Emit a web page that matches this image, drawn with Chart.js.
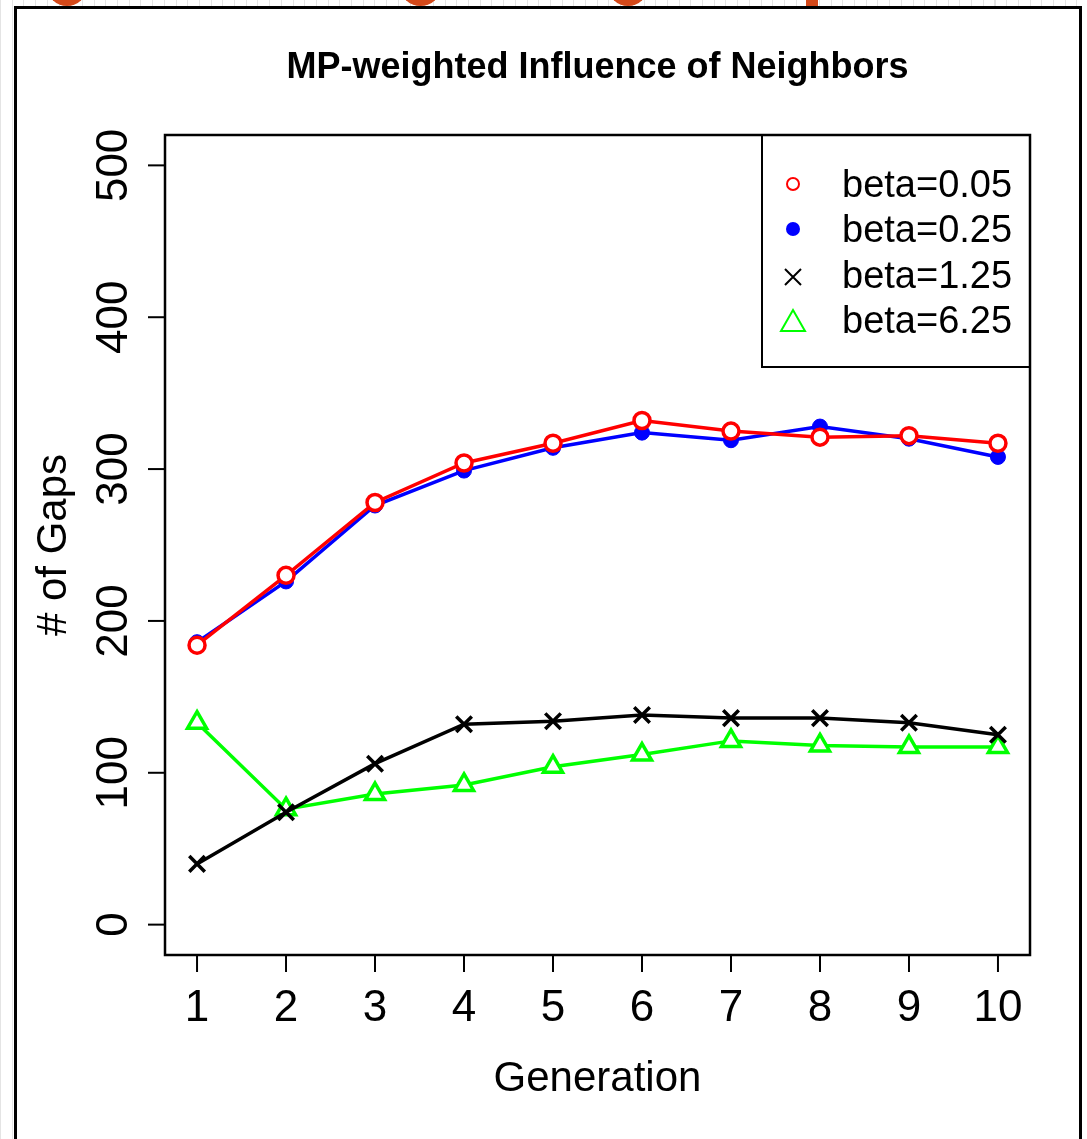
<!DOCTYPE html>
<html>
<head>
<meta charset="utf-8">
<script src="https://cdn.jsdelivr.net/npm/chart.js@4.4.1/dist/chart.umd.min.js"></script>
<style>
  html, body { margin: 0; padding: 0; }
  body {
    width: 1087px; height: 1139px; overflow: hidden; position: relative;
    background: #fff repeating-linear-gradient(90deg, #e4e4e4 0 1px, transparent 1px 11.7px);
  }
  .frame {
    position: absolute; left: 14px; top: 6px; width: 1068px; height: 1200px;
    border: 3px solid #000; background: #fff; box-sizing: border-box;
  }
  .blob { position: absolute; background: #d4491a; }
  #chart { position: absolute; left: 0; top: 0; }
</style>
</head>
<body>
<div class="blob" style="left:47px;top:-34px;width:40px;height:40px;border-radius:50%"></div>
<div class="blob" style="left:400px;top:-34px;width:41px;height:40px;border-radius:50%"></div>
<div class="blob" style="left:608px;top:-34px;width:40px;height:40px;border-radius:50%"></div>
<div class="blob" style="left:806px;top:0;width:12px;height:6px"></div>
<div class="frame"></div>
<canvas id="chart" width="1087" height="1139"></canvas>
<script>
const generations = [1, 2, 3, 4, 5, 6, 7, 8, 9, 10];
const beta005 = [184, 230, 278, 304, 317, 332, 325, 321, 322, 317];
const beta025 = [186, 226, 276, 299, 314, 324, 319, 328, 320, 308];
const beta125 = [40, 74, 106, 132, 134, 138, 136, 136, 133, 125];
const beta625 = [133, 76, 86, 92, 104, 112, 121, 118, 117, 117];
const yTicks = [0, 100, 200, 300, 400, 500];
const seriesNames = ['beta=0.05', 'beta=0.25', 'beta=1.25', 'beta=6.25'];

const FONT = '"Liberation Sans", Arial, Helvetica, sans-serif';

function pts(values) {
    return generations.map((g, i) => ({ x: g, y: values[i] }));
}

// R-style box, ticks, labels, title and legend
const rStyle = {
    id: 'rStyle',
    afterDraw(chart) {
        const ctx = chart.ctx;
        const a = chart.chartArea;
        const xs = chart.scales.x, ys = chart.scales.y;
        ctx.save();
        ctx.strokeStyle = '#000';
        ctx.fillStyle = '#000';
        ctx.lineWidth = 2.5;
        ctx.strokeRect(a.left, a.top, a.right - a.left, a.bottom - a.top);

        // x axis
        ctx.lineWidth = 2;
        ctx.font = '44px ' + FONT;
        ctx.textAlign = 'center';
        ctx.textBaseline = 'middle';
        generations.forEach(g => {
            const px = xs.getPixelForValue(g);
            ctx.beginPath();
            ctx.moveTo(px, a.bottom);
            ctx.lineTo(px, a.bottom + 17);
            ctx.stroke();
            ctx.fillText(String(g), px, 1009);
        });
        ctx.font = '42px ' + FONT;
        ctx.fillText('Generation', (a.left + a.right) / 2, 1079);

        // y axis
        yTicks.forEach(v => {
            const py = ys.getPixelForValue(v);
            ctx.beginPath();
            ctx.moveTo(a.left - 17, py);
            ctx.lineTo(a.left, py);
            ctx.stroke();
            ctx.save();
            ctx.translate(115, py);
            ctx.rotate(-Math.PI / 2);
            ctx.font = '44px ' + FONT;
            ctx.fillText(String(v), 0, 0);
            ctx.restore();
        });
        ctx.save();
        ctx.translate(54, (a.top + a.bottom) / 2);
        ctx.rotate(-Math.PI / 2);
        ctx.font = '42px ' + FONT;
        ctx.fillText('# of Gaps', 0, 0);
        ctx.restore();

        // title
        ctx.font = 'bold 36px ' + FONT;
        ctx.fillText('MP-weighted Influence of Neighbors', (a.left + a.right) / 2, 68);

        // legend
        ctx.lineWidth = 2;
        ctx.strokeRect(762, a.top, a.right - 762, 232);
        const rows = [186, 231, 277, 322];
        const sx = 793;
        chart.data.datasets.forEach((ds, i) => {
            const y = rows[i];
            ctx.strokeStyle = ds.borderColor;
            ctx.fillStyle = ds.borderColor;
            ctx.lineWidth = 2;
            ctx.beginPath();
            if (i === 0) {
                ctx.arc(sx, y - 2, 6, 0, Math.PI * 2);
                ctx.stroke();
            } else if (i === 1) {
                ctx.arc(sx, y - 2, 7, 0, Math.PI * 2);
                ctx.fill();
            } else if (i === 2) {
                ctx.moveTo(sx - 8, y - 8); ctx.lineTo(sx + 8, y + 8);
                ctx.moveTo(sx + 8, y - 8); ctx.lineTo(sx - 8, y + 8);
                ctx.stroke();
            } else {
                ctx.moveTo(sx, y - 12); ctx.lineTo(sx + 12, y + 9); ctx.lineTo(sx - 12, y + 9);
                ctx.closePath();
                ctx.stroke();
            }
            ctx.fillStyle = '#000';
            ctx.font = '38px ' + FONT;
            ctx.textAlign = 'left';
            ctx.fillText(ds.label, 842, y + 1);
        });
        ctx.restore();
    }
};

const ctx = document.getElementById('chart').getContext('2d');
const myChart = new Chart(ctx, {
    type: 'line',
    data: {
        datasets: [{
            label: seriesNames[0],
            data: pts(beta005),
            borderColor: '#ff0000',
            backgroundColor: '#ffffff',
            borderWidth: 3.5,
            pointStyle: 'circle',
            pointRadius: 8,
            pointBorderWidth: 3.5
        }, {
            label: seriesNames[1],
            data: pts(beta025),
            borderColor: '#0000ff',
            backgroundColor: '#0000ff',
            borderWidth: 3.5,
            pointStyle: 'circle',
            pointRadius: 7.5,
            pointBorderWidth: 1
        }, {
            label: seriesNames[2],
            data: pts(beta125),
            borderColor: '#000000',
            backgroundColor: '#000000',
            borderWidth: 3.5,
            pointStyle: 'crossRot',
            pointRadius: 11,
            pointBorderWidth: 3.5
        }, {
            label: seriesNames[3],
            data: pts(beta625),
            borderColor: '#00ff00',
            backgroundColor: '#ffffff',
            borderWidth: 3.5,
            pointStyle: 'triangle',
            pointRadius: 11,
            pointBorderWidth: 3.5
        }]
    },
    options: {
        responsive: false,
        animation: false,
        devicePixelRatio: 1,
        layout: { padding: { left: 165, right: 57, top: 135, bottom: 184 } },
        elements: { line: { tension: 0 } },
        scales: {
            x: { type: 'linear', min: 0.64, max: 10.36, display: false },
            y: { type: 'linear', min: -20, max: 520, display: false }
        },
        plugins: { legend: { display: false }, tooltip: { enabled: false } }
    },
    plugins: [rStyle]
});
</script>
</body>
</html>
